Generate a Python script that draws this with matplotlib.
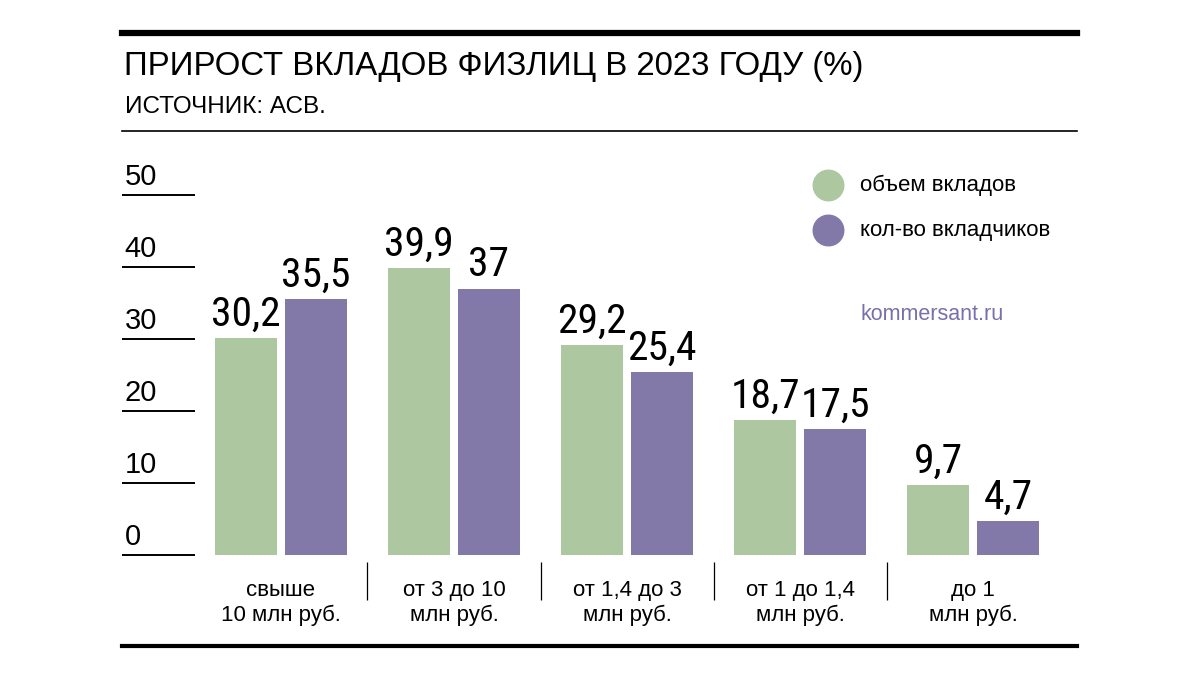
import matplotlib
matplotlib.use("Agg")
import matplotlib.pyplot as plt
from matplotlib import font_manager as fm
from matplotlib.textpath import TextPath
from matplotlib.lines import Line2D
import numpy as np

# данные
categories = ["свыше\n10 млн руб.", "от 3 до 10\nмлн руб.", "от 1,4 до 3\nмлн руб.",
              "от 1 до 1,4\nмлн руб.", "до 1\nмлн руб."]
volume = [30.2, 39.9, 29.2, 18.7, 9.7]
depositors = [35.5, 37, 25.4, 17.5, 4.7]
yticks = [0, 10, 20, 30, 40, 50]
series_names = ["объем вкладов", "кол-во вкладчиков"]

GREEN = "#adc8a0"
PURPLE = "#8279a8"

plt.rcParams["font.family"] = ["Liberation Sans", "DejaVu Sans"]


# самый узкий вариант обычного гротеска для цифр над столбиками
def _num(v, table):
    return v if isinstance(v, (int, float)) else table.get(v, 500)


BASES = {"Noto Sans", "DejaVu Sans", "Open Sans", "Roboto", "Liberation Sans", "Lato", "Inter"}


def _base(name):
    words = [w for w in name.split()
             if not any(k in w.lower() for k in ("cond", "narrow", "extcd", "semcd"))]
    return " ".join(words)


def narrowest(wmin, wmax):
    best, best_w = None, None
    for f in fm.fontManager.ttflist:
        if _base(f.name) not in BASES:
            continue
        if f.style != "normal" or _num(f.stretch, fm.stretch_dict) >= 500:
            continue
        if not wmin <= _num(f.weight, fm.weight_dict) <= wmax:
            continue
        try:
            e = TextPath((0, 0), "30,2", size=100,
                         prop=fm.FontProperties(fname=f.fname)).get_extents()
        except Exception:
            continue
        if best_w is None or e.width < best_w:
            best, best_w = f.fname, e.width
    return best


best = narrowest(400, 500) or narrowest(300, 600)
num_prop = fm.FontProperties(fname=best) if best else fm.FontProperties(family="DejaVu Sans")
digit = TextPath((0, 0), "3", size=100, prop=num_prop).get_extents()
ext = TextPath((0, 0), "30,2", size=100, prop=num_prop).get_extents()
num_size = min(43 * 72 / digit.height, 66 * 72 / ext.width)
num_prop.set_size(num_size)

W, H = 1200, 675
fig = plt.figure(figsize=(12, 6.75), dpi=100)
fig.patch.set_facecolor("white")


def fx(px):
    return px / W


def fy(py):
    return 1 - py / H


ax = fig.add_axes([fx(122), fy(555), fx(1077 - 122), (555 - 195) / H])
x = np.arange(len(categories))
bw = 0.358
off = 0.202
ax.bar(x - off, volume, bw, color=GREEN)
ax.bar(x + off, depositors, bw, color=PURPLE)
ax.set_xlim(-0.919, 4.601)
ax.set_ylim(0, 50)
ax.axis("off")

# шкала слева
ax.hlines(yticks, -0.919, -0.497, colors="black", lw=1.4, clip_on=False)
for t in yticks:
    ax.text(-0.905, t + 1.4, str(t), fontsize=21, ha="left", va="baseline")

# подписи значений
for xs, vals in ((x - off, volume), (x + off, depositors)):
    for xi, v in zip(xs, vals):
        ax.annotate(f"{v:g}".replace(".", ","), (xi, v), xytext=(0, 3),
                    textcoords="offset points", ha="center", va="bottom",
                    fontproperties=num_prop)

# категории и разделители
for i, c in enumerate(categories):
    ax.text(i, -6.7, c, ha="center", va="center", fontsize=16,
            linespacing=1.25, clip_on=False)
ax.vlines(x[:-1] + 0.5, -6.3, -1.0, colors="black", lw=0.9, clip_on=False)

# легенда
for py, col, name in ((185, GREEN, series_names[0]), (230, PURPLE, series_names[1])):
    fig.add_artist(Line2D([fx(828)], [fy(py)], marker="o", markersize=22,
                          color=col, linestyle="none"))
    fig.text(fx(860), fy(py), name, fontsize=16, va="center", ha="left")
fig.text(fx(860), fy(314), "kommersant.ru", fontsize=15.5, va="center", ha="left",
         color="#7a6fab")

# заголовок
fig.add_artist(Line2D([fx(122), fx(1077)], [fy(33), fy(33)], color="black", lw=4.5))
fig.text(fx(124), fy(75), "ПРИРОСТ ВКЛАДОВ ФИЗЛИЦ В 2023 ГОДУ (%)", fontsize=23.8,
         ha="left", va="baseline")
fig.text(fx(125), fy(113), "ИСТОЧНИК: АСВ.", fontsize=17.5, ha="left", va="baseline")
fig.add_artist(Line2D([fx(122), fx(1077)], [fy(131), fy(131)], color="black", lw=1.2))
fig.add_artist(Line2D([fx(122), fx(1077)], [fy(646), fy(646)], color="black", lw=3))

fig.savefig("out.png", dpi=100, facecolor="white")
